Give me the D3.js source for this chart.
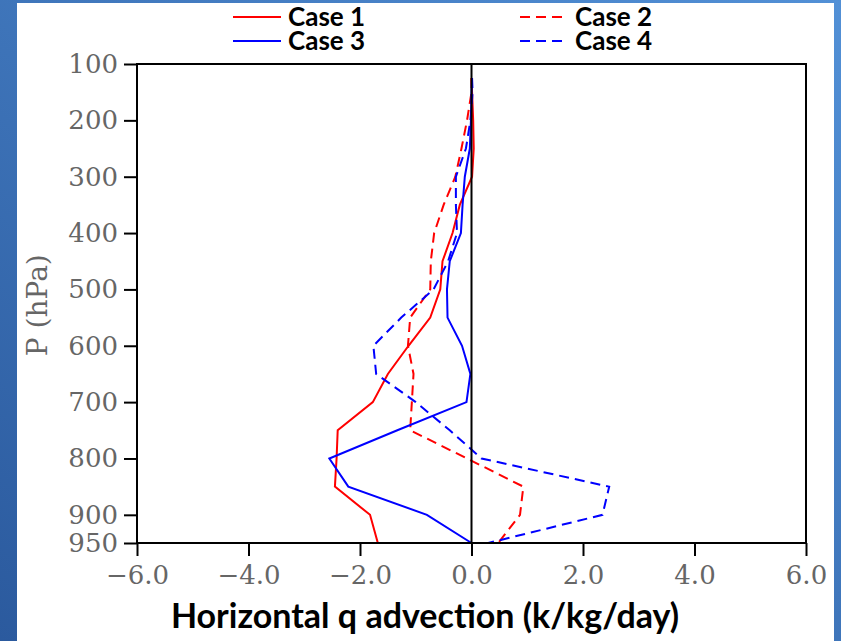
<!DOCTYPE html>
<html>
<head>
<meta charset="utf-8">
<script src="https://cdn.jsdelivr.net/npm/d3@7"></script>
<style>
  body { margin: 0; padding: 0; overflow: hidden; }
  svg { display: block; }
</style>
</head>
<body>
<svg class="profile" width="841" height="641"></svg>
<script>

// pressure levels (hPa) shared by every case
let levels = [125, 150, 200, 250, 300, 350, 400, 450, 500, 550, 600, 650, 700, 750, 800, 850, 900, 950];

// horizontal q advection (k/kg/day)
let case1 = [0.0, 0.01, 0.03, 0.04, 0.01, -0.21, -0.34, -0.52, -0.56, -0.74, -1.13, -1.50, -1.77, -2.40, -2.42, -2.45, -1.82, -1.68];
let case2 = [0.0, 0.0, -0.08, -0.18, -0.29, -0.50, -0.67, -0.73, -0.74, -1.10, -1.14, -1.04, -1.07, -1.10, -0.08, 0.93, 0.87, 0.48];
let case3 = [0.01, 0.0, -0.01, -0.03, -0.12, -0.16, -0.19, -0.39, -0.44, -0.43, -0.17, -0.02, -0.09, -1.33, -2.55, -2.21, -0.80, 0.0];
let case4 = [0.01, 0.02, -0.02, -0.10, -0.28, -0.28, -0.26, -0.42, -0.68, -1.26, -1.76, -1.71, -1.0, -0.39, 0.18, 2.47, 2.35, 0.30];

let caseNames = ["Case 1", "Case 2", "Case 3", "Case 4"];
let caseColors = ["#ff0000", "#ff0000", "#0000ff", "#0000ff"];
let caseDashed = [false, true, false, true];

let xTicks = [-6, -4, -2, 0, 2, 4, 6];
let yTicks = [100, 200, 300, 400, 500, 600, 700, 800, 900, 950];

let drawProfile = function()
{
  let svg = d3.select("body").select(".profile");

  // slide background: blue frame around a white panel
  let defs = svg.append("defs");
  let grad = defs.append("linearGradient")
    .attr("id", "bg")
    .attr("x1", "0").attr("y1", "1")
    .attr("x2", "1").attr("y2", "0");
  grad.append("stop").attr("offset", "0%").attr("stop-color", "#2b5a9e");
  grad.append("stop").attr("offset", "100%").attr("stop-color", "#5290d6");

  svg.append("rect").attr("width", 841).attr("height", 641).attr("fill", "url(#bg)");
  svg.append("rect").attr("x", 17).attr("y", 3).attr("width", 817).attr("height", 638).attr("fill", "white");

  let margin = { top: 64, right: 35, bottom: 98, left: 137 };
  let plotWidth = 841 - margin.left - margin.right;
  let plotHeight = 641 - margin.top - margin.bottom;

  let x = d3.scaleLinear().domain([-6, 6]).range([0, plotWidth]);
  let y = d3.scaleLinear().domain([100, 950]).range([0, plotHeight]);

  let plot = svg.append("g").attr("transform", translate(margin.left, margin.top));

  let tickFont = "'DejaVu Serif', serif";

  let xAxis = d3.axisBottom(x)
    .tickValues(xTicks)
    .tickSize(13)
    .tickPadding(10)
    .tickFormat(d3.format(".1f"));
  let xGroup = plot.append("g").attr("transform", translate(0, plotHeight)).call(xAxis);

  let yAxis = d3.axisLeft(y)
    .tickValues(yTicks)
    .tickSize(13)
    .tickPadding(6);
  let yGroup = plot.append("g").call(yAxis);

  [xGroup, yGroup].forEach(g => {
    g.select(".domain").remove();
    g.selectAll(".tick line").attr("stroke", "#000").attr("stroke-width", 2);
    g.selectAll(".tick text")
      .attr("fill", "#666")
      .style("font-family", tickFont)
      .style("font-size", "26px");
  });

  // profiles
  let line = d3.line()
    .x(d => x(d[1]))
    .y(d => y(d[0]));

  let series = [case1, case2, case3, case4].map(v => levels.map((p, i) => [p, v[i]]));

  plot.selectAll(".profile-line")
    .data(series)
    .join("path")
      .attr("class", "profile-line")
      .attr("d", line)
      .attr("fill", "none")
      .attr("stroke", (d, i) => caseColors[i])
      .attr("stroke-width", 2)
      .attr("stroke-dasharray", (d, i) => caseDashed[i] ? "10,6" : null);

  // zero line and frame
  plot.append("line")
    .attr("x1", x(0)).attr("x2", x(0))
    .attr("y1", 0).attr("y2", plotHeight)
    .attr("stroke", "#000").attr("stroke-width", 2);

  plot.append("rect")
    .attr("width", plotWidth).attr("height", plotHeight)
    .attr("fill", "none").attr("stroke", "#000").attr("stroke-width", 2);

  // axis titles
  svg.append("text")
    .attr("transform", "translate(47," + (margin.top + y(528)) + ") rotate(-90)")
    .style("text-anchor", "middle")
    .style("font-family", tickFont)
    .style("font-size", "28px")
    .attr("fill", "#666")
    .text("P (hPa)");

  svg.append("text")
    .attr("x", 425).attr("y", 628)
    .style("text-anchor", "middle")
    .style("font-family", "Lato, sans-serif")
    .style("font-weight", "bold")
    .style("font-size", "34px")
    .attr("fill", "#000")
    .text("Horizontal q advection (k/kg/day)");

  // legend, two columns
  let legend = svg.selectAll(".legend")
    .data(caseNames)
    .join("g")
      .attr("class", "legend")
      .attr("transform", (d, i) => translate(i % 2 == 0 ? 233 : 520, i < 2 ? 17 : 41));

  legend.append("line")
    .attr("x1", 0).attr("x2", 48)
    .attr("stroke", (d, i) => caseColors[i])
    .attr("stroke-width", 2)
    .attr("stroke-dasharray", (d, i) => caseDashed[i] ? "10,6" : null);

  legend.append("text")
    .attr("x", 55).attr("y", 9)
    .style("font-family", "Lato, sans-serif")
    .style("font-weight", "bold")
    .style("font-size", "26px")
    .attr("fill", "#000")
    .text(d => d);
};

function translate(x, y) {
  return 'translate(' + x + ',' + y + ')';
}

drawProfile();
</script>
</body>
</html>
